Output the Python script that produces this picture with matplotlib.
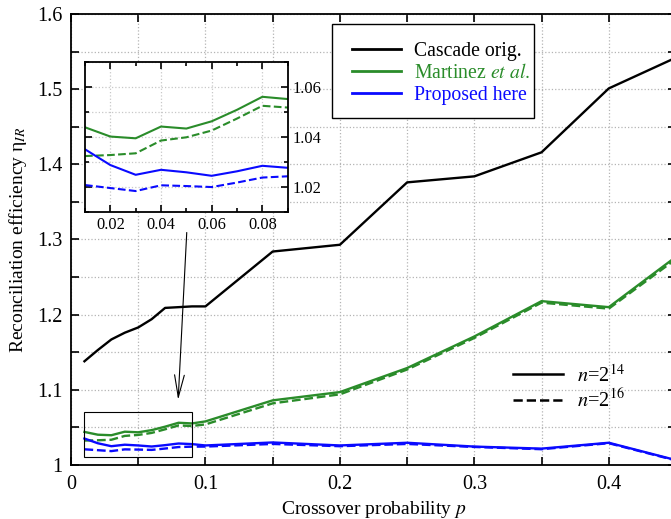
"""Reconciliation efficiency vs crossover probability, with zoomed inset."""

import matplotlib as mpl
import matplotlib.pyplot as plt
from matplotlib.lines import Line2D
from matplotlib.patches import Rectangle
from matplotlib.ticker import FormatStrFormatter, MultipleLocator

GREEN = "#2a8c2a"
BLUE = "#0a0aff"
GRID = "#b4b4b4"

# crossover probabilities
p = [0.01, 0.02, 0.03, 0.04, 0.05, 0.06, 0.07, 0.08, 0.09, 0.10,
     0.15, 0.20, 0.25, 0.30, 0.35, 0.40, 0.45]

cascade_14 = [1.138, 1.153, 1.167, 1.176, 1.183, 1.194, 1.209, 1.210, 1.211, 1.211,
              1.284, 1.293, 1.376, 1.384, 1.416, 1.501, 1.542]

martinez_14 = [1.0440, 1.0403, 1.0396, 1.0443, 1.0435, 1.0464, 1.0510, 1.0562, 1.0553, 1.058,
               1.086, 1.097, 1.129, 1.171, 1.218, 1.210, 1.277]
martinez_16 = [1.0325, 1.0329, 1.0336, 1.0387, 1.0400, 1.0427, 1.0475, 1.0526, 1.0519, 1.054,
               1.082, 1.094, 1.127, 1.169, 1.216, 1.208, 1.274]

proposed_14 = [1.0352, 1.0289, 1.0250, 1.0270, 1.0260, 1.0246, 1.0264, 1.0286, 1.0278, 1.026,
               1.030, 1.026, 1.0296, 1.0245, 1.0218, 1.0296, 1.0065]
proposed_16 = [1.0209, 1.0197, 1.0185, 1.0208, 1.0205, 1.0201, 1.0219, 1.0239, 1.0244, 1.0245,
               1.028, 1.025, 1.028, 1.024, 1.021, 1.029, 1.006]

INSET_X = (0.01, 0.09)
INSET_Y = (1.01, 1.07)

mpl.rcParams.update({
    "font.family": "serif",
    "font.serif": ["Liberation Serif", "DejaVu Serif"],
    "mathtext.fontset": "stix",
    "font.size": 14.5,
})

W, H = 671, 519


def fig_xy(px, py):
    # pixel position (from top-left) -> figure fraction
    return px / W, 1 - py / H


def draw_series(ax, lw):
    ax.plot(p, cascade_14, color="black", lw=lw)
    ax.plot(p, martinez_14, color=GREEN, lw=lw)
    ax.plot(p, martinez_16, color=GREEN, lw=lw, ls="--")
    ax.plot(p, proposed_14, color=BLUE, lw=lw)
    ax.plot(p, proposed_16, color=BLUE, lw=lw, ls="--")


fig = plt.figure(figsize=(W / 100, H / 100), dpi=100)
ax = fig.add_axes([71 / W, 54 / H, 605 / W, 451 / H])

draw_series(ax, 1.7)
ax.set_xlim(0, 0.45)
ax.set_ylim(1.0, 1.6)
ax.xaxis.set_major_locator(MultipleLocator(0.1))
ax.xaxis.set_minor_locator(MultipleLocator(0.05))
ax.yaxis.set_major_locator(MultipleLocator(0.1))
ax.yaxis.set_minor_locator(MultipleLocator(0.05))
ax.xaxis.set_major_formatter(FormatStrFormatter("%g"))
ax.yaxis.set_major_formatter(FormatStrFormatter("%g"))
ax.tick_params(which="both", direction="in", top=True, right=True, length=6, width=1.2,
               labelsize=14.5)
ax.tick_params(axis="y", pad=6)
ax.tick_params(axis="x", pad=7)
ax.grid(which="both", color=GRID, ls=":", lw=0.9)
for s in ax.spines.values():
    s.set_linewidth(1.3)
ax.set_xlabel("Crossover probability $p$", fontsize=14, labelpad=3.5)
ax.set_ylabel(r"Reconciliation efficiency $\mathregular{\eta}_{IR}$", fontsize=14, labelpad=6)

# zoom region marker + arrow
ax.add_patch(Rectangle((INSET_X[0], INSET_Y[0]), INSET_X[1] - INSET_X[0], INSET_Y[1] - INSET_Y[0],
                       fill=False, ec="black", lw=0.8, zorder=5))
ax.annotate("", xy=(0.0796, 1.083), xytext=(0.0862, 1.313),
            arrowprops=dict(arrowstyle="->,head_length=1.6,head_width=0.35",
                            mutation_scale=10, lw=0.8, color="black"), zorder=5)

# legend frame drawn separately (uneven inner padding in the original)
ax.add_patch(Rectangle(fig_xy(332, 118), 202 / W, 94 / H, transform=fig.transFigure,
                       fc="white", ec="black", lw=1.0, zorder=4.9, clip_on=False))

series_handles = [
    Line2D([], [], color="black", lw=2),
    Line2D([], [], color=GREEN, lw=2),
    Line2D([], [], color=BLUE, lw=2),
]
leg1 = ax.legend(series_handles, ["Cascade orig.", r"Martinez $\mathit{et\ al.}$", "Proposed here"],
                 loc="upper left", bbox_to_anchor=fig_xy(352, 42),
                 bbox_transform=fig.transFigure, borderaxespad=0, borderpad=0, frameon=False,
                 handlelength=2.5, handletextpad=0.62, labelcolor="linecolor",
                 fontsize=14.2, labelspacing=0.16)
ax.add_artist(leg1)

size_handles = [
    Line2D([], [], color="black", lw=1.8),
    Line2D([], [], color="black", lw=1.8, ls="--"),
]
ax.legend(size_handles, [r"$n$=2$^{14}$", r"$n$=2$^{16}$"],
          loc="upper left", bbox_to_anchor=fig_xy(505, 356),
          bbox_transform=fig.transFigure, borderaxespad=0, frameon=False,
          handlelength=2.45, handletextpad=0.7, fontsize=14.7, labelspacing=0.15)

# inset
axi = fig.add_axes([85 / W, 1 - 212.3 / H, 202.7 / W, 150 / H])
draw_series(axi, 1.5)
axi.set_xlim(*INSET_X)
axi.set_ylim(*INSET_Y)
axi.xaxis.set_major_locator(MultipleLocator(0.02))
axi.xaxis.set_minor_locator(MultipleLocator(0.01))
axi.yaxis.set_major_locator(MultipleLocator(0.02))
axi.yaxis.set_minor_locator(MultipleLocator(0.01))
axi.xaxis.set_major_formatter(FormatStrFormatter("%.2f"))
axi.yaxis.set_major_formatter(FormatStrFormatter("%.2f"))
axi.tick_params(which="both", direction="in", top=True, bottom=True, left=True, right=True,
                labelleft=False, labelright=True, labelsize=11.8, width=1.2)
axi.tick_params(which="major", length=5)
axi.tick_params(which="minor", length=3)
axi.grid(which="major", axis="x", color="#c8c8c8", ls=":", lw=0.9)
axi.grid(which="both", axis="y", color="#c8c8c8", ls=":", lw=0.9)
for s in axi.spines.values():
    s.set_linewidth(1.3)

fig.savefig("out.png", dpi=100, facecolor="white")
